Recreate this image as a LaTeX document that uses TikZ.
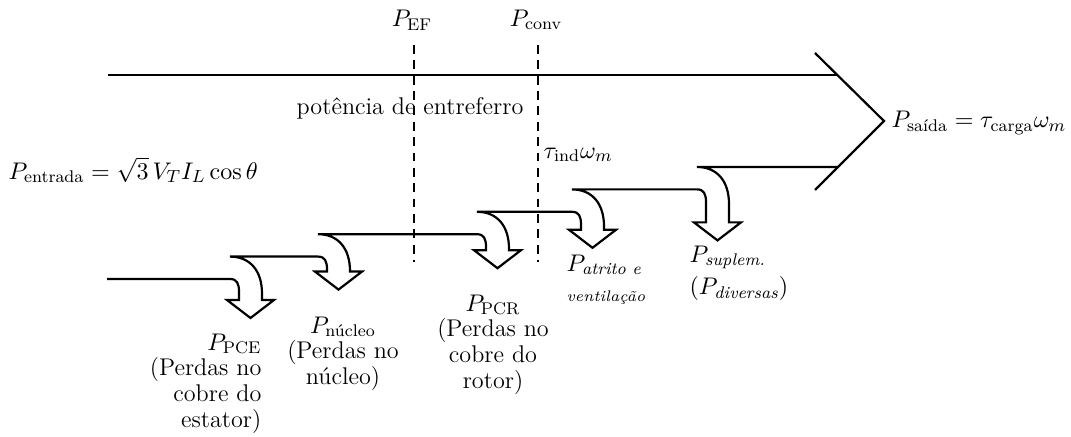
\documentclass[tikz,border=0pt]{standalone}
\usepackage{amsmath}
\usepackage{amssymb}
\usetikzlibrary{positioning}

\begin{document}
\begin{tikzpicture}[x=0.016cm,y=-0.016cm,
	flow/.style={line width=1pt,line join=miter},
	cut/.style={dash pattern=on 4pt off 3pt},
	lbl/.style={inner sep=1pt,font=\fontsize{11}{11.8}\selectfont}]

			      \useasboundingbox (0,0) rectangle (1071,437);

			      \coordinate (in) at (107,279);
			      \coordinate (top) at (108,75);
			      \coordinate (topend) at (838,75);
			      \coordinate (bot) at (838,167);
			      \coordinate (tip) at (884,121);
			      \coordinate (wingup) at (815,53);
			      \coordinate (wingdown) at (815,190);

			      \draw[flow] (top) -- (topend);
			      \draw[flow] (wingup) -- (tip) -- (wingdown);
			      \draw[flow] (in)
			      foreach \x/\y/\d in {230/256.6/21, 318/234.2/15, 477/211.8/16, 572/189.4/18, 697/167/33} {
			      -- (\x,\y+22.4) .. controls (\x+7,\y+22.4) and (\x+9,\y+27) .. (\x+9,\y+35.4)
			      -- (\x+9,\y+22.4+\d) -- (\x-3,\y+22.4+\d) -- (\x+20.5,\y+40.4+\d) -- (\x+44,\y+22.4+\d)
			      -- (\x+32,\y+22.4+\d) -- (\x+32,\y+37) .. controls (\x+32,\y+14) and (\x+20,\y) .. (\x,\y)
			      } -- (bot);

			      \node[lbl] (ef) at (412,20) {$P_{\text{EF}}$};
			      \node[lbl] (conv) at (536,20) {$P_{\text{conv}}$};
			      \draw[cut,line width=0.6pt] (414,45) -- (414,262);
			      \draw[cut,line width=1.1pt] (538,45) -- (538,262);

			      \node[lbl] (gap) at (410,108) {potência de entreferro};
			      \node[lbl,anchor=west] (pin) at (6,170) {$P_{\text{entrada}} = \sqrt{3}\,V_T I_L \cos\theta$};
			      \node[lbl,anchor=west] (pout) at (889,123) {$P_{\text{saída}} = \tau_{\text{carga}}\omega_m$};
			      \node[lbl,anchor=west] (tind) at (541,155) {$\tau_{\text{ind}}\omega_m$};

			      \node[lbl,anchor=north east,align=right] (pce) at (264,331) {$P_{\text{PCE}}$\\(Perdas no\\cobre do\\estator)};
			      \node[lbl,anchor=north,align=center] (pnuc) at (343,314) {$P_{\text{núcleo}}$\\(Perdas no\\núcleo)};
			      \node[lbl,anchor=north,align=center] (pcr) at (493,292) {$P_{\text{PCR}}$\\(Perdas no\\cobre do\\rotor)};
			      \node[lbl,anchor=north west,align=left] (pav) at (564,252) {$P_{\textit{atrito e}}$\\[2pt]{\scriptsize\itshape ventilação}};
			      \node[lbl,anchor=north west,align=left] (psup) at (687,243) {$P_{\textit{suplem.}}$\\[3pt]$(P_{\textit{diversas}})$};
		      \end{tikzpicture}
\end{document}
